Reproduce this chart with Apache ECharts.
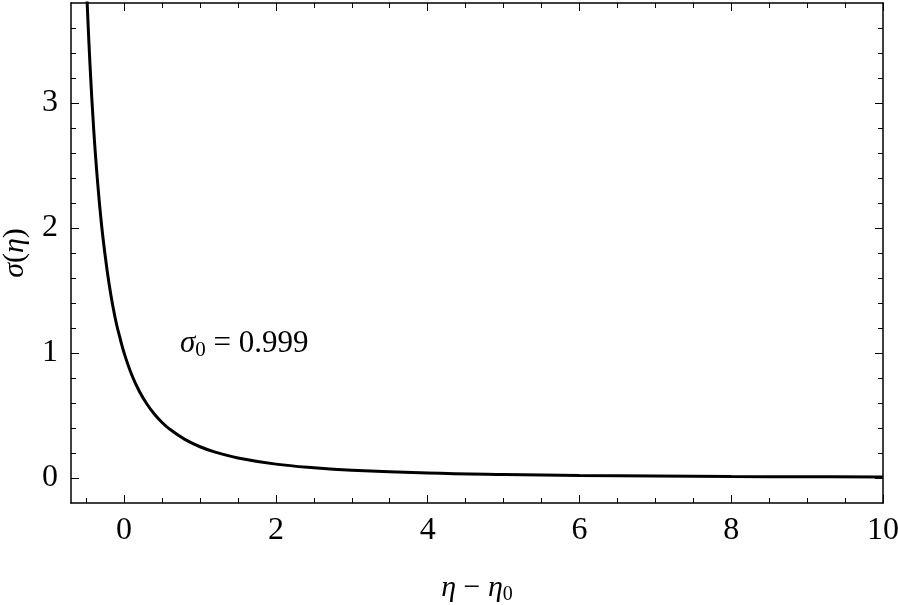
<!DOCTYPE html>
<html>
<head>
<meta charset="utf-8">
<script src="https://cdn.jsdelivr.net/npm/echarts@6/dist/echarts.min.js"></script>
<style>
  html, body { margin: 0; padding: 0; background: #fff; }
  #chart { width: 898px; height: 605px; }
</style>
</head>
<body>
<div id="chart"></div>
<script>
// values
const eta = [-0.49, -0.45, -0.4, -0.35, -0.3, -0.25, -0.2, -0.15, -0.1, -0.05, 0,
  0.1, 0.2, 0.3, 0.4, 0.5, 0.6, 0.8, 1.0, 1.2, 1.5, 2, 2.5, 3, 4, 5, 6, 7, 8, 9, 10]
const sigma = [3.84, 3.31, 2.78, 2.37, 2.04, 1.78, 1.56, 1.38, 1.23, 1.11, 1.0,
  0.826, 0.694, 0.592, 0.51, 0.444, 0.391, 0.309, 0.25, 0.207, 0.16, 0.111, 0.082,
  0.0625, 0.04, 0.028, 0.02, 0.016, 0.012, 0.01, 0.008]

const xMajor = [0, 2, 4, 6, 8, 10]
const xMinor = [-0.5, 0.5, 1, 1.5, 2.5, 3, 3.5, 4.5, 5, 5.5, 6.5, 7, 7.5, 8.5, 9, 9.5]
const yMajor = [0, 1, 2, 3]
const yMinor = [0.2, 0.4, 0.6, 0.8, 1.2, 1.4, 1.6, 1.8, 2.2, 2.4, 2.6, 2.8, 3.2, 3.4, 3.6]

const serif = 'Liberation Serif'
const line = { show: true, onZero: false, lineStyle: { color: '#000', width: 1.5 } }
const noLine = { show: false, onZero: false }

function xAx(pos, ticks, len, labels, withLine) {
  return {
    type: 'value', position: pos, min: -0.7, max: 10,
    axisLine: withLine ? line : noLine,
    splitLine: { show: false },
    axisTick: { inside: true, length: len, customValues: ticks, lineStyle: { color: '#000', width: 1 } },
    axisLabel: labels
      ? { customValues: ticks, color: '#000', fontFamily: serif, fontSize: 32, margin: 12 }
      : { show: false }
  }
}
function yAx(pos, ticks, len, labels, withLine) {
  return {
    type: 'value', position: pos, min: -0.2, max: 3.8,
    axisLine: withLine ? line : noLine,
    splitLine: { show: false },
    axisTick: { inside: true, length: len, customValues: ticks, lineStyle: { color: '#000', width: 1 } },
    axisLabel: labels
      ? { customValues: ticks, color: '#000', fontFamily: serif, fontSize: 32, margin: 13 }
      : { show: false }
  }
}

const xb = xAx('bottom', xMajor, 8, true, true)
xb.name = '{i|η} − {i|η}{s|0}'
xb.nameLocation = 'middle'
xb.nameGap = 68
xb.nameTextStyle = {
  color: '#000', fontFamily: serif, fontSize: 30,
  rich: {
    i: { fontFamily: serif, fontStyle: 'italic', fontSize: 30, color: '#000' },
    s: { fontFamily: serif, fontSize: 20, color: '#000', verticalAlign: 'bottom', padding: [14, 0, 0, 0] }
  }
}
const yl = yAx('left', yMajor, 8, true, true)
yl.name = '{i|σ}({i|η})'
yl.nameLocation = 'middle'
yl.nameGap = 41
yl.nameTextStyle = {
  color: '#000', fontFamily: serif, fontSize: 30,
  rich: { i: { fontFamily: serif, fontStyle: 'italic', fontSize: 30, color: '#000' } }
}

const chart = echarts.init(document.getElementById('chart'))
chart.setOption({
  backgroundColor: '#fff',
  animation: false,
  grid: { left: 71, right: 15, top: 3, bottom: 102, containLabel: false, outerBoundsMode: 'none' },
  xAxis: [
    xb,
    xAx('bottom', xMinor, 5, false, false),
    xAx('top', xMajor, 8, false, true),
    xAx('top', xMinor, 5, false, false)
  ],
  yAxis: [
    yl,
    yAx('left', yMinor, 5, false, false),
    yAx('right', yMajor, 8, false, true),
    yAx('right', yMinor, 5, false, false)
  ],
  graphic: [{
    type: 'text', left: 180, top: 328,
    style: {
      text: '{i|σ}{s|0} = 0.999',
      fontFamily: serif, fontSize: 31, fill: '#000',
      rich: {
        i: { fontFamily: serif, fontStyle: 'italic', fontSize: 31, fill: '#000' },
        s: { fontFamily: serif, fontSize: 21, fill: '#000', verticalAlign: 'bottom', padding: [14, 0, 0, 0] }
      }
    }
  }],
  series: [{
    type: 'line',
    xAxisIndex: 0, yAxisIndex: 0,
    data: eta.map((x, i) => [x, sigma[i]]),
    smooth: 0.4,
    symbol: 'none', clip: true,
    lineStyle: { color: '#000', width: 3 }
  }]
})
</script>
</body>
</html>
